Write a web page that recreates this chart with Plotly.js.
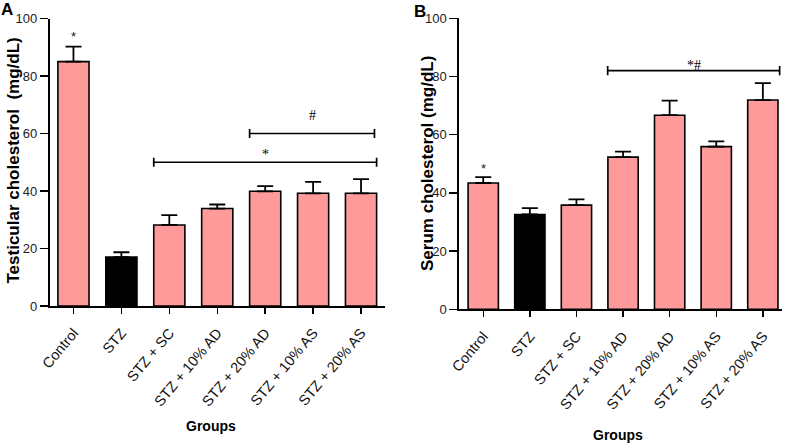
<!DOCTYPE html>
<html>
<head>
<meta charset="utf-8">
<script src="https://cdn.plot.ly/plotly-3.0.1.min.js"></script>
<style>
html,body{margin:0;padding:0;background:#fff;}
#chart{width:787px;height:445px;}
</style>
</head>
<body>
<div id="chart"></div>
<script>
// ---- data ----
const groups = ["Control", "STZ", "STZ + SC", "STZ + 10% AD", "STZ + 20% AD", "STZ + 10% AS", "STZ + 20% AS"];
const testicularMean = [85.0, 17.0, 28.2, 33.9, 39.9, 39.2, 39.2];
const testicularErr  = [5.2, 1.7, 3.4, 1.4, 1.8, 4.0, 4.9];
const serumMean = [43.4, 32.6, 35.8, 52.3, 66.7, 55.9, 71.9];
const serumErr  = [2.0, 2.2, 2.0, 1.9, 5.0, 1.8, 5.8];
const barColors = ["#FF9A9A", "#000000", "#FF9A9A", "#FF9A9A", "#FF9A9A", "#FF9A9A", "#FF9A9A"];
// significance brackets: [from (category units), to, level, label]
const bracketsA = [[1.675, 6.325, 50, "*"], [3.675, 6.28, 60, "#"]];
const bracketsB = [[2.67, 6.36, 82, "*#"]];
// single-bar marks: [group index, level, label]
const marksA = [[0, 93.8, "*"]];
const marksB = [[0, 48.4, "*"]];

// ---- styling ----
const sans = "Arial, 'Liberation Sans', sans-serif";
const labelShift = {"*": 7.7, "#": 18.5, "*#": 5};

function barTrace(vals, errs, xa, ya) {
  return {
    type: "bar", x: groups, y: vals, xaxis: xa, yaxis: ya,
    width: 0.65,
    marker: {color: barColors, line: {color: "#000", width: 1.6}},
    error_y: {type: "data", array: errs, arrayminus: errs.map(() => 0), symmetric: false,
              color: "#000", thickness: 1.8, width: 8},
    showlegend: false, hoverinfo: "skip"
  };
}

const data = [
  barTrace(testicularMean, testicularErr, "x", "y"),
  barTrace(serumMean, serumErr, "x2", "y2")
];

const shapes = [];
const annotations = [];
function addBrackets(list, xr, yr) {
  list.forEach(b => {
    const [x0, x1, lv, lab] = b;
    const ln = {color: "#000", width: 1.7};
    shapes.push({type: "line", xref: xr, yref: yr, x0: x0, x1: x1, y0: lv, y1: lv, line: ln});
    shapes.push({type: "line", xref: xr, yref: yr, x0: x0, x1: x0, y0: lv - 1.6, y1: lv + 1.6, line: ln});
    shapes.push({type: "line", xref: xr, yref: yr, x0: x1, x1: x1, y0: lv - 1.6, y1: lv + 1.6, line: ln});
    annotations.push({xref: xr, yref: yr, x: (x0 + x1) / 2, y: lv, yshift: labelShift[lab] || 6, text: lab,
      showarrow: false, xanchor: "center", yanchor: "middle",
      font: {family: "'Liberation Serif', 'Times New Roman', serif", size: 14, color: "#000"}});
  });
}
function addMarks(list, xr, yr) {
  list.forEach(m => {
    annotations.push({xref: xr, yref: yr, x: m[0], y: m[1], text: m[2], showarrow: false,
      xanchor: "center", yanchor: "middle", font: {family: sans, size: 13, color: "#222"}});
  });
}
addBrackets(bracketsA, "x", "y");
addBrackets(bracketsB, "x2", "y2");
addMarks(marksA, "x", "y");
addMarks(marksB, "x2", "y2");

// axis titles and panel labels (paper fractions of the 787x445 picture)
function paperText(px, py, text, font, angle) {
  annotations.push({xref: "paper", yref: "paper", x: px / 787, y: 1 - py / 445, text: text,
    textangle: angle || 0, showarrow: false, xanchor: "center", yanchor: "middle", font: font});
}
const titleFont = {family: sans, size: 17, color: "#000"};
const groupFont = {family: sans, size: 14, color: "#000"};
const panelFont = {family: sans, size: 17, color: "#000"};
paperText(12.5, 161, "<b>Testicular cholesterol  (mg/dL)</b>", titleFont, -90);
paperText(427.5, 163.5, "<b>Serum cholesterol (mg/dL)</b>", titleFont, -90);
paperText(211, 426, "<b>Groups</b>", groupFont);
paperText(617.5, 435, "<b>Groups</b>", groupFont);
paperText(7, 9.5, "<b>A</b>", panelFont);
paperText(420, 11, "<b>B</b>", panelFont);

const xCommon = {type: "category", showline: true, linecolor: "#000", linewidth: 1.8, ticks: "outside",
  ticklen: 6, tickwidth: 1.4, tickcolor: "#000", tickangle: -50, ticklabelstandoff: 5,
  tickfont: {family: sans, size: 14.5, color: "#111"}, showgrid: false, zeroline: false, fixedrange: true};
const yCommon = {range: [0, 100], dtick: 20, showline: true, linecolor: "#000", linewidth: 1.6, ticks: "outside",
  ticklen: 8, tickwidth: 1.4, tickcolor: "#000", tickfont: {family: sans, size: 13, color: "#222"},
  showgrid: false, zeroline: false, fixedrange: true};

const layout = {
  width: 787, height: 445,
  margin: {l: 0, r: 0, t: 0, b: 0},
  paper_bgcolor: "#fff", plot_bgcolor: "#fff",
  xaxis: Object.assign({}, xCommon, {domain: [49.5 / 787, 385 / 787], range: [-0.5, 6.5], anchor: "y"}),
  yaxis: Object.assign({}, yCommon, {domain: [1 - 306 / 445, 1 - 18.5 / 445], anchor: "x"}),
  xaxis2: Object.assign({}, xCommon, {domain: [459 / 787, 781.5 / 787], range: [-0.52, 6.4], anchor: "y2"}),
  yaxis2: Object.assign({}, yCommon, {domain: [1 - 309.3 / 445, 1 - 18.3 / 445], anchor: "x2"}),
  shapes: shapes,
  annotations: annotations
};

Plotly.newPlot("chart", data, layout, {staticPlot: true, displayModeBar: false});
</script>
</body>
</html>
